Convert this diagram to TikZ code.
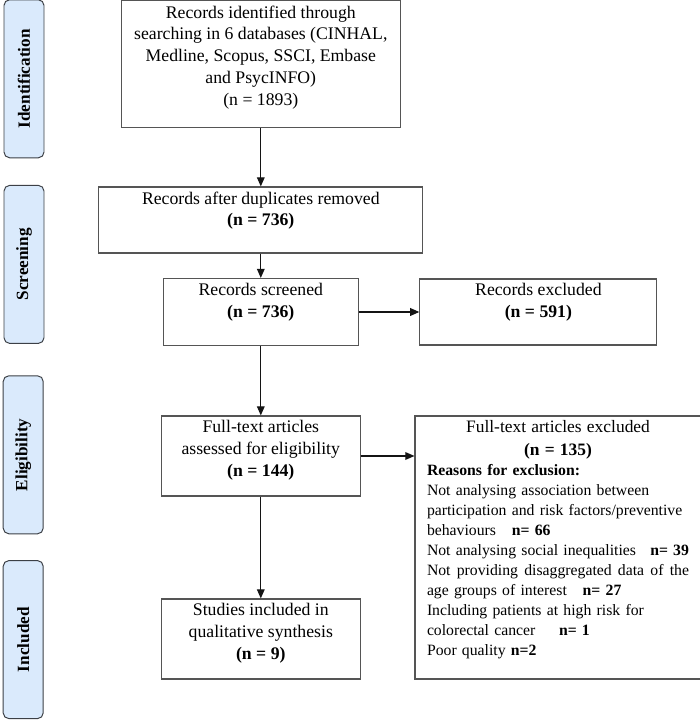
\documentclass[tikz,border=0pt]{standalone}
\usepackage{fontspec}
\setmainfont{Liberation Serif}
\usetikzlibrary{arrows.meta}
\definecolor{stageblue}{RGB}{218,234,252}
\definecolor{stageedge}{RGB}{60,64,70}
\definecolor{boxedge}{RGB}{85,85,85}
\definecolor{flowdark}{RGB}{20,20,20}

\begin{document}
\begin{tikzpicture}[x=1cm,y=1cm,>={Triangle[length=6.5pt,width=5.5pt]},
  stage/.style={draw=stageedge,fill=stageblue,rounded corners=4pt,line width=0.7pt,
    rotate=90,minimum width=3.95cm,minimum height=1cm,inner sep=0pt,
    font=\fontsize{12.2}{15}\selectfont\bfseries},
  flowbox/.style={draw=boxedge,line width=0.8pt,inner sep=0pt},
  boxtext/.style={anchor=north,inner sep=0pt,align=center,
    font=\fontsize{12.6}{15.5}\selectfont},
  flow/.style={->,draw=flowdark,line width=0.8pt}]
  \useasboundingbox (0,0) rectangle (17.5,18);

  % Stage labels down the left side
  \node[stage] (stIdent) at (0.6,16.03) {Identification};
  \node[stage] (stScreen) at (0.6,11.39) {Screening};
  \node[stage] (stElig) at (0.58,6.63) {Eligibility};
  \node[stage] (stIncl) at (0.58,2.01) {Included};

  % --- Main column ---
  \node[flowbox,minimum width=6.975cm,minimum height=3.175cm] (ident) at (6.52,16.39) {};
  \node[boxtext] (identText) at ([yshift=-3.5pt]ident.north)
    {Records identified through\\searching in 6 databases (CINHAL,\\Medline, Scopus, SSCI, Embase\\and PsycINFO)\\(n = 1893)};

  \node[flowbox,minimum width=8.1cm,minimum height=1.65cm] (dup) at (6.52,12.5) {};
  \node[boxtext] (dupText) at ([yshift=-3.5pt]dup.north)
    {Records after duplicates removed\\\textbf{(n = 736)}};

  \node[flowbox,minimum width=4.875cm,minimum height=1.675cm] (scr) at (6.52,10.2) {};
  \node[boxtext] (scrText) at ([yshift=-3.5pt]scr.north)
    {Records screened\\\textbf{(n = 736)}};

  \node[flowbox,minimum width=4.975cm,minimum height=2.0cm] (elig) at (6.52,6.6) {};
  \node[boxtext] (eligText) at ([yshift=-3.5pt]elig.north)
    {Full-text articles\\assessed for eligibility\\\textbf{(n = 144)}};

  \node[flowbox,minimum width=4.975cm,minimum height=2.0cm] (incl) at (6.52,2.025) {};
  \node[boxtext] (inclText) at ([yshift=-3.5pt]incl.north)
    {Studies included in\\qualitative synthesis\\\textbf{(n = 9)}};

  % --- Exclusions on the right ---
  \node[flowbox,minimum width=5.925cm,minimum height=1.65cm] (excl) at (13.46,10.2) {};
  \node[boxtext] (exclText) at ([yshift=-3.5pt]excl.north)
    {Records excluded\\\textbf{(n = 591)}};

  \node[flowbox,minimum width=7.15cm,minimum height=6.575cm] (fexcl) at (13.95,4.3125) {};
  \node[boxtext,align=left,text width=6.55cm,font=\fontsize{11.2}{14.2}\selectfont]
    (fexclText) at ([yshift=-3.5pt]fexcl.north)
    {{\centering\fontsize{12.4}{16.5}\selectfont Full-text articles excluded\\\textbf{(n = 135)}\par}
     \textbf{Reasons for exclusion:}\\
     Not analysing association between\\
     participation and risk factors/preventive\\
     behaviours\quad \textbf{n= 66}\\
     Not analysing social inequalities\hfill\textbf{n= 39}\\
     Not\hfill providing\hfill disaggregated\hfill data\hfill of\hfill the\\
     age groups of interest\quad \textbf{n= 27}\\
     Including patients at high risk for\\
     colorectal cancer\quad\enspace\textbf{n= 1}\\
     Poor quality \textbf{n=2}};

  % Connectors
  \draw[flow] (ident.south) -- (dup.north);
  \draw[flow] (dup.south) -- (scr.north);
  \draw[flow] (scr.east) -- (excl.west);
  \draw[flow] (scr.south) -- (elig.north);
  \draw[flow] (elig.east) -- (elig.east -| fexcl.west);
  \draw[flow] (elig.south) -- (incl.north);

\end{tikzpicture}
\end{document}
